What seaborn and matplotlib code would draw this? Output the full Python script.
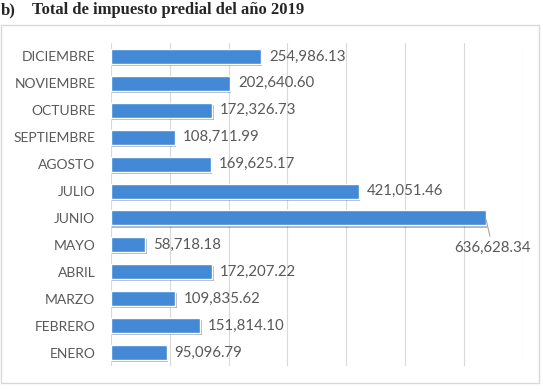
import numpy as np
import pandas as pd
import seaborn as sns
import matplotlib.pyplot as plt
import matplotlib.patheffects as pe
from matplotlib.patches import Rectangle

MONTHS = ['DICIEMBRE', 'NOVIEMBRE', 'OCTUBRE', 'SEPTIEMBRE', 'AGOSTO', 'JULIO',
          'JUNIO', 'MAYO', 'ABRIL', 'MARZO', 'FEBRERO', 'ENERO']
VALUES = [254986.13, 202640.60, 172326.73, 108711.99, 169625.17, 421051.46,
          636628.34, 58718.18, 172207.22, 109835.62, 151814.10, 95096.79]
GRID_TICKS = [0, 100000, 200000, 300000, 400000, 500000, 600000, 700000]
TITLE = 'Total de impuesto predial del año 2019'

W, H = 543, 389
TEXT_COLOR = '#595959'
BAR_COLOR = '#4489D6'


def main():
    sns.set_theme(style='white')
    plt.rcParams['font.family'] = ['Lato', 'DejaVu Sans']

    df = pd.DataFrame({'mes': MONTHS, 'monto': VALUES})

    fig = plt.figure(figsize=(W / 100, H / 100), dpi=100)
    ax = fig.add_axes([110.7 / W, 1 - 366 / H, (523 - 110.7) / W, (366 - 43) / H])

    sns.barplot(data=df, y='mes', x='monto', order=MONTHS, orient='h',
                color=BAR_COLOR, saturation=1, width=0.56, ax=ax, zorder=3)
    for bar in ax.patches:
        bar.set_path_effects([pe.SimplePatchShadow(offset=(1, -1.5), alpha=0.35),
                              pe.Normal()])

    ax.set_xlim(GRID_TICKS[0], GRID_TICKS[-1])
    ax.set_xticks(GRID_TICKS)
    ax.set_xticklabels([])
    ax.grid(axis='x', color='#d9d9d9', lw=0.8, zorder=0)
    ax.grid(axis='y', visible=False)
    for s in ax.spines.values():
        s.set_visible(False)
    ax.set_xlabel('')
    ax.set_ylabel('')
    ax.tick_params(axis='both', length=0)
    ax.tick_params(axis='y', pad=11, labelsize=10, labelcolor=TEXT_COLOR)

    for i, (m, v) in enumerate(zip(MONTHS, VALUES)):
        label = f'{v:,.2f}'
        if m == 'JUNIO':
            ax.annotate(label, xy=(v, i), xytext=(7, -30), textcoords='offset pixels',
                        ha='center', va='center', fontsize=10.8, color=TEXT_COLOR,
                        arrowprops=dict(arrowstyle='-', color='#a6a6a6', lw=0.8,
                                        shrinkA=1, shrinkB=1))
        else:
            ax.annotate(label, xy=(v, i), xytext=(8, 0), textcoords='offset pixels',
                        ha='left', va='center', fontsize=10.8, color=TEXT_COLOR)

    # chart border
    fig.patches.append(Rectangle((0.5 / W, 1 - 383 / H), 538.5 / W, (383 - 25) / H,
                                 transform=fig.transFigure, fill=False,
                                 edgecolor='#d9d9d9', lw=1))

    # caption above the chart
    fig.text(1 / W, 1 - 14 / H, 'b)', fontsize=12, fontweight='bold',
             family='Liberation Serif', va='baseline', ha='left')
    fig.text(32 / W, 1 - 14 / H, TITLE, fontsize=12, fontweight='bold',
             family='Liberation Serif', va='baseline', ha='left')

    fig.savefig('out.png', dpi=100)


if __name__ == '__main__':
    main()
